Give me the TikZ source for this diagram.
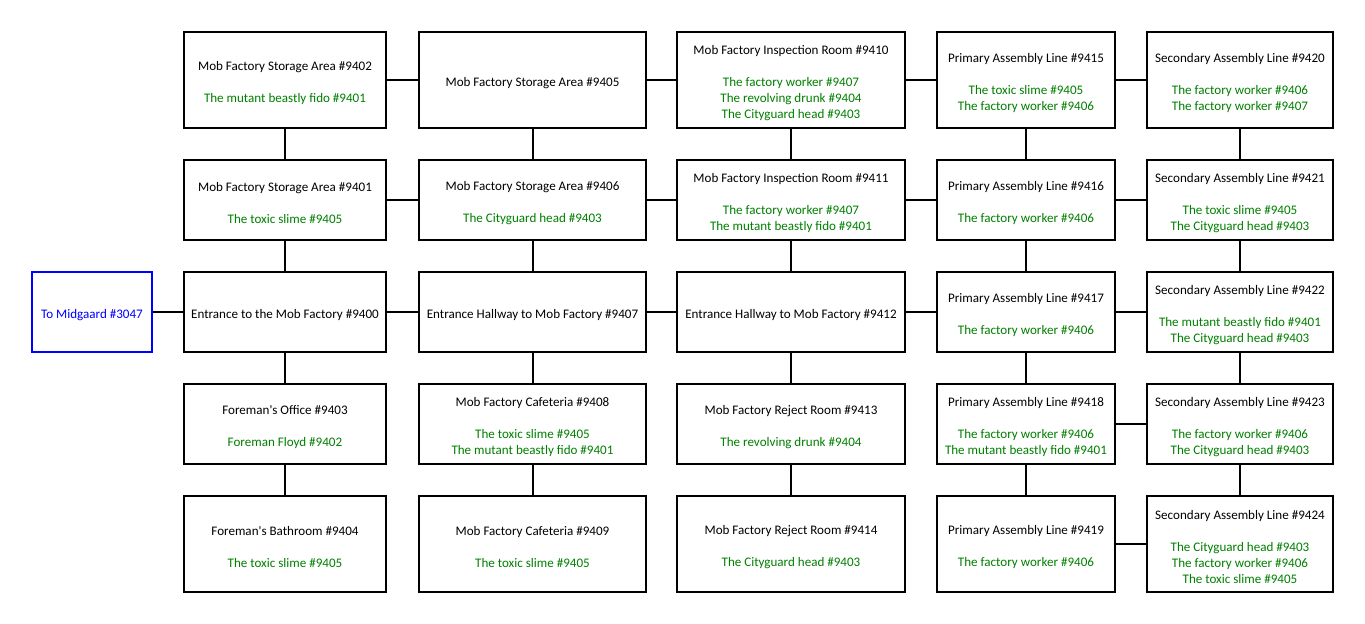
\documentclass[tikz,border=0pt]{standalone}
\usepackage{fontspec}
\setmainfont{Carlito}
\definecolor{mobgreen}{RGB}{0,128,0}
\definecolor{exitblue}{RGB}{0,0,255}
\newcommand\mobtxt[1]{\textcolor{mobgreen}{#1}}
\tikzset{
  room/.style={draw=black, line width=1.5pt, inner sep=0pt, fill=white},
  txt/.style={align=center, inner sep=0pt, yshift=-2pt,
    font=\fontsize{9.8}{12}\selectfont},
  exitroom/.style={room, draw=exitblue, minimum width=90pt, minimum height=60pt},
  cA/.style={minimum width=151.5pt},
  cB/.style={minimum width=170.25pt},
  cC/.style={minimum width=171pt},
  cD/.style={minimum width=133.5pt},
  cE/.style={minimum width=139.5pt},
  tall/.style={minimum height=72pt},
  short/.style={minimum height=60pt},
  conn/.style={draw=black, line width=1.5pt},
}
% \roomnode{name}{x}{y}{styles}{text}
\newcommand\roomnode[5]{\node[room,#4,label={[txt]center:{#5}}] (#1) at (#2,#3) {};}
\begin{document}
\begin{tikzpicture}[x=0.75pt,y=-0.75pt]
\useasboundingbox (0,0) rectangle (1365,624);
% column x centres: 285, 532.5, 791, 1026, 1240
% row y centres: 80, 200, 312, 424, 544
\roomnode{r3047}{92}{312}{exitroom}{\textcolor{exitblue}{To Midgaard \#3047}}
% column 1
\roomnode{r9402}{285}{80}{cA,tall}{Mob Factory Storage Area \#9402\\[12pt]\mobtxt{The mutant beastly fido \#9401}}
\roomnode{r9401}{285}{200}{cA,short}{Mob Factory Storage Area \#9401\\[12pt]\mobtxt{The toxic slime \#9405}}
\roomnode{r9400}{285}{312}{cA,short}{Entrance to the Mob Factory \#9400}
\roomnode{r9403}{285}{424}{cA,short}{Foreman\textquotesingle s Office \#9403\\[12pt]\mobtxt{Foreman Floyd \#9402}}
\roomnode{r9404}{285}{544}{cA,tall}{Foreman\textquotesingle s Bathroom \#9404\\[12pt]\mobtxt{The toxic slime \#9405}}
% column 2
\roomnode{r9405}{532.5}{80}{cB,tall}{Mob Factory Storage Area \#9405}
\roomnode{r9406}{532.5}{200}{cB,short}{Mob Factory Storage Area \#9406\\[12pt]\mobtxt{The Cityguard head \#9403}}
\roomnode{r9407}{532.5}{312}{cB,short}{Entrance Hallway to Mob Factory \#9407}
\roomnode{r9408}{532.5}{424}{cB,short}{Mob Factory Cafeteria \#9408\\[12pt]\mobtxt{The toxic slime \#9405}\\\mobtxt{The mutant beastly fido \#9401}}
\roomnode{r9409}{532.5}{544}{cB,tall}{Mob Factory Cafeteria \#9409\\[12pt]\mobtxt{The toxic slime \#9405}}
% column 3
\roomnode{r9410}{791}{80}{cC,tall}{Mob Factory Inspection Room \#9410\\[12pt]\mobtxt{The factory worker \#9407}\\\mobtxt{The revolving drunk \#9404}\\\mobtxt{The Cityguard head \#9403}}
\roomnode{r9411}{791}{200}{cC,short}{Mob Factory Inspection Room \#9411\\[12pt]\mobtxt{The factory worker \#9407}\\\mobtxt{The mutant beastly fido \#9401}}
\roomnode{r9412}{791}{312}{cC,short}{Entrance Hallway to Mob Factory \#9412}
\roomnode{r9413}{791}{424}{cC,short}{Mob Factory Reject Room \#9413\\[12pt]\mobtxt{The revolving drunk \#9404}}
\roomnode{r9414}{791}{544}{cC,tall}{Mob Factory Reject Room \#9414\\[12pt]\mobtxt{The Cityguard head \#9403}}
% column 4
\roomnode{r9415}{1026}{80}{cD,tall}{Primary Assembly Line \#9415\\[12pt]\mobtxt{The toxic slime \#9405}\\\mobtxt{The factory worker \#9406}}
\roomnode{r9416}{1026}{200}{cD,short}{Primary Assembly Line \#9416\\[12pt]\mobtxt{The factory worker \#9406}}
\roomnode{r9417}{1026}{312}{cD,short}{Primary Assembly Line \#9417\\[12pt]\mobtxt{The factory worker \#9406}}
\roomnode{r9418}{1026}{424}{cD,short}{Primary Assembly Line \#9418\\[12pt]\mobtxt{The factory worker \#9406}\\\mobtxt{The mutant beastly fido \#9401}}
\roomnode{r9419}{1026}{544}{cD,tall}{Primary Assembly Line \#9419\\[12pt]\mobtxt{The factory worker \#9406}}
% column 5
\roomnode{r9420}{1240}{80}{cE,tall}{Secondary Assembly Line \#9420\\[12pt]\mobtxt{The factory worker \#9406}\\\mobtxt{The factory worker \#9407}}
\roomnode{r9421}{1240}{200}{cE,short}{Secondary Assembly Line \#9421\\[12pt]\mobtxt{The toxic slime \#9405}\\\mobtxt{The Cityguard head \#9403}}
\roomnode{r9422}{1240}{312}{cE,short}{Secondary Assembly Line \#9422\\[12pt]\mobtxt{The mutant beastly fido \#9401}\\\mobtxt{The Cityguard head \#9403}}
\roomnode{r9423}{1240}{424}{cE,short}{Secondary Assembly Line \#9423\\[12pt]\mobtxt{The factory worker \#9406}\\\mobtxt{The Cityguard head \#9403}}
\roomnode{r9424}{1240}{544}{cE,tall}{Secondary Assembly Line \#9424\\[12pt]\mobtxt{The Cityguard head \#9403}\\\mobtxt{The factory worker \#9406}\\\mobtxt{The toxic slime \#9405}}
% horizontal connectors
\foreach \a/\b in {9402/9405,9405/9410,9410/9415,9415/9420,
                   9401/9406,9406/9411,9411/9416,9416/9421,
                   3047/9400,9400/9407,9407/9412,9412/9417,9417/9422,
                   9418/9423,9419/9424}
  \draw[conn] (r\a.east) -- (r\b.west);
% vertical connectors
\foreach \a/\b in {9402/9401,9401/9400,9400/9403,9403/9404,
                   9405/9406,9406/9407,9407/9408,9408/9409,
                   9410/9411,9411/9412,9412/9413,9413/9414,
                   9415/9416,9416/9417,9417/9418,9418/9419,
                   9420/9421,9421/9422,9422/9423,9423/9424}
  \draw[conn] (r\a.south) -- (r\b.north);
\end{tikzpicture}
\end{document}
